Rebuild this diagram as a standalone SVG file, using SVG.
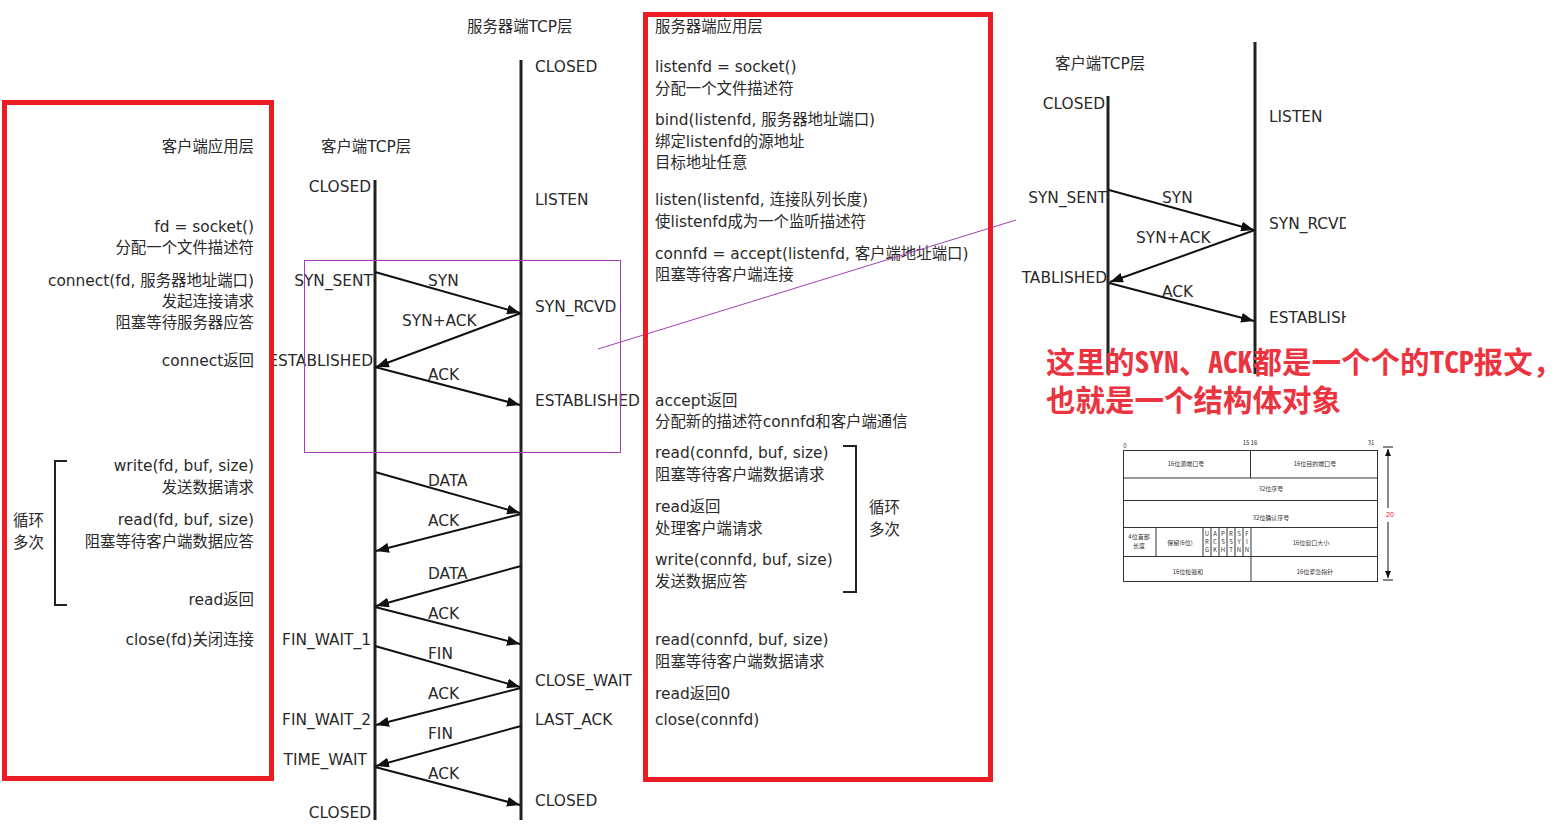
<svg xmlns="http://www.w3.org/2000/svg" width="1561" height="830" viewBox="0 0 1561 830">
<style>
  .t { font-family: "DejaVu Sans", "Noto Sans CJK SC", sans-serif; font-size: 15.4px; fill: #2a2a2a; }
  .e { text-anchor: end; }
  .life { stroke: #222; stroke-width: 3; fill: none; }
  .msg { stroke: #111; stroke-width: 2; fill: none; marker-end: url(#ah); }
  .redbox { fill: none; stroke: #ec1c24; stroke-width: 5; }
  .purple { fill: none; stroke: #a23fb5; stroke-width: 1; }
  .brk { fill: none; stroke: #222; stroke-width: 2; }
  .note { font-family: "Noto Sans Mono CJK SC", "Noto Sans CJK SC", sans-serif; font-size: 29.5px; font-weight: bold; fill: #ec3340; }
  .hdr { font-family: "Noto Sans CJK SC", sans-serif; font-size: 6px; fill: #333; text-anchor: middle; }
  .cell { fill: none; stroke: #333; stroke-width: 1; }
</style>
<defs>
  <marker id="ah" markerUnits="userSpaceOnUse" markerWidth="14" markerHeight="10" refX="13" refY="5" orient="auto">
    <path d="M0,0 L13,5 L0,10 z" fill="#111"/>
  </marker>
  <marker id="sa" markerUnits="userSpaceOnUse" markerWidth="8" markerHeight="8" refX="7" refY="3" orient="auto">
    <path d="M0,0 L7,3 L0,6 z" fill="#111"/>
  </marker>
  <clipPath id="clipR"><rect x="1021" y="38" width="325" height="336"/></clipPath>
</defs>
<rect width="1561" height="830" fill="#ffffff"/>

<g id="client-app">
  <text class="t e" x="254" y="152">客户端应用层</text>
  <text class="t e" x="254" y="232">fd = socket()</text>
  <text class="t e" x="254" y="253">分配一个文件描述符</text>
  <text class="t e" x="254" y="286">connect(fd, 服务器地址端口)</text>
  <text class="t e" x="254" y="307">发起连接请求</text>
  <text class="t e" x="254" y="328">阻塞等待服务器应答</text>
  <text class="t e" x="254" y="366">connect返回</text>
  <text class="t e" x="254" y="471">write(fd, buf, size)</text>
  <text class="t e" x="254" y="493">发送数据请求</text>
  <text class="t e" x="254" y="525">read(fd, buf, size)</text>
  <text class="t e" x="254" y="547">阻塞等待客户端数据应答</text>
  <text class="t e" x="254" y="605">read返回</text>
  <text class="t e" x="254" y="645">close(fd)关闭连接</text>
  <path class="brk" d="M67,461 L55,461 L55,605 L67,605"/>
  <text class="t" x="13" y="526">循环</text>
  <text class="t" x="13" y="548">多次</text>
</g>

<g id="client-tcp">
  <text class="t" x="321" y="152">客户端TCP层</text>
  <line class="life" x1="375" y1="180" x2="375" y2="820"/>
  <text class="t e" x="371" y="192">CLOSED</text>
  <text class="t e" x="373" y="286">SYN_SENT</text>
  <text class="t e" x="373" y="366">ESTABLISHED</text>
  <text class="t e" x="371" y="645">FIN_WAIT_1</text>
  <text class="t e" x="371" y="725">FIN_WAIT_2</text>
  <text class="t e" x="367" y="765">TIME_WAIT</text>
  <text class="t e" x="371" y="818">CLOSED</text>
</g>

<g id="server-tcp">
  <text class="t" x="467" y="32">服务器端TCP层</text>
  <line class="life" x1="521" y1="60" x2="521" y2="820"/>
  <text class="t" x="535" y="72">CLOSED</text>
  <text class="t" x="535" y="205">LISTEN</text>
  <text class="t" x="535" y="312">SYN_RCVD</text>
  <text class="t" x="535" y="406">ESTABLISHED</text>
  <text class="t" x="535" y="686">CLOSE_WAIT</text>
  <text class="t" x="535" y="725">LAST_ACK</text>
  <text class="t" x="535" y="806">CLOSED</text>
</g>

<g id="server-app">
  <text class="t" x="655" y="32">服务器端应用层</text>
  <text class="t" x="655" y="72">listenfd = socket()</text>
  <text class="t" x="655" y="94">分配一个文件描述符</text>
  <text class="t" x="655" y="125">bind(listenfd, 服务器地址端口)</text>
  <text class="t" x="655" y="147">绑定listenfd的源地址</text>
  <text class="t" x="655" y="168">目标地址任意</text>
  <text class="t" x="655" y="205">listen(listenfd, 连接队列长度)</text>
  <text class="t" x="655" y="227">使listenfd成为一个监听描述符</text>
  <text class="t" x="655" y="259">connfd = accept(listenfd, 客户端地址端口)</text>
  <text class="t" x="655" y="280">阻塞等待客户端连接</text>
  <text class="t" x="655" y="406">accept返回</text>
  <text class="t" x="655" y="427">分配新的描述符connfd和客户端通信</text>
  <text class="t" x="655" y="458">read(connfd, buf, size)</text>
  <text class="t" x="655" y="480">阻塞等待客户端数据请求</text>
  <text class="t" x="655" y="512">read返回</text>
  <text class="t" x="655" y="534">处理客户端请求</text>
  <text class="t" x="655" y="565">write(connfd, buf, size)</text>
  <text class="t" x="655" y="587">发送数据应答</text>
  <path class="brk" d="M843,446 L856,446 L856,592 L843,592"/>
  <text class="t" x="869" y="513">循环</text>
  <text class="t" x="869" y="535">多次</text>
  <text class="t" x="655" y="645">read(connfd, buf, size)</text>
  <text class="t" x="655" y="667">阻塞等待客户端数据请求</text>
  <text class="t" x="655" y="699">read返回0</text>
  <text class="t" x="655" y="725">close(connfd)</text>
</g>

<g id="connectors">
  <path class="msg" d="M375,272 L520,313"/>
  <path class="msg" d="M521,313 L376,367"/>
  <path class="msg" d="M375,367 L520,405"/>
  <path class="msg" d="M375,472 L520,513"/>
  <path class="msg" d="M521,514 L376,551"/>
  <path class="msg" d="M521,566 L376,606"/>
  <path class="msg" d="M375,607 L520,644"/>
  <path class="msg" d="M375,646 L520,687"/>
  <path class="msg" d="M521,688 L376,725"/>
  <path class="msg" d="M521,726 L376,766"/>
  <path class="msg" d="M375,767 L520,805"/>
  <text class="t" x="428" y="286">SYN</text>
  <text class="t" x="402" y="326">SYN+ACK</text>
  <text class="t" x="428" y="380">ACK</text>
  <text class="t" x="428" y="486">DATA</text>
  <text class="t" x="428" y="526">ACK</text>
  <text class="t" x="428" y="579">DATA</text>
  <text class="t" x="428" y="619">ACK</text>
  <text class="t" x="428" y="659">FIN</text>
  <text class="t" x="428" y="699">ACK</text>
  <text class="t" x="428" y="739">FIN</text>
  <text class="t" x="428" y="779">ACK</text>
</g>

<g id="highlight">
  <rect class="purple" x="304.5" y="260.5" width="316" height="192"/>
  <line class="purple" x1="598" y1="349" x2="1016" y2="220"/>
</g>

<g id="red-frames">
  <rect class="redbox" x="4.5" y="102.5" width="267" height="676"/>
  <rect class="redbox" x="645.5" y="14.5" width="345" height="765"/>
</g>

<g id="handshake-detail" clip-path="url(#clipR)">
  <text class="t" x="1055" y="69">客户端TCP层</text>
  <line class="life" x1="1108" y1="96" x2="1108" y2="374"/>
  <line class="life" x1="1255" y1="42" x2="1255" y2="374"/>
  <text class="t e" x="1105" y="109">CLOSED</text>
  <text class="t" x="1269" y="122">LISTEN</text>
  <text class="t e" x="1107" y="203">SYN_SENT</text>
  <text class="t" x="1162" y="203">SYN</text>
  <text class="t" x="1269" y="229">SYN_RCVD</text>
  <text class="t" x="1136" y="243">SYN+ACK</text>
  <text class="t e" x="1107" y="283">ESTABLISHED</text>
  <text class="t" x="1162" y="297">ACK</text>
  <text class="t" x="1269" y="323">ESTABLISHED</text>
  <path class="msg" d="M1109,190 L1254,230"/>
  <path class="msg" d="M1255,230 L1110,282"/>
  <path class="msg" d="M1109,283 L1254,321"/>
</g>

<g id="note">
  <text class="note" x="1046" y="373">这里的SYN、ACK都是一个个的TCP报文，</text>
  <text class="note" x="1046" y="411">也就是一个结构体对象</text>
</g>

<g id="tcp-header">
  <text class="hdr" x="1125" y="448" font-size="5">0</text>
  <text class="hdr" x="1250" y="445" font-size="5">15 16</text>
  <text class="hdr" x="1371" y="445" font-size="5">31</text>
  <rect class="cell" x="1123.5" y="450.5" width="254" height="131"/>
  <line class="cell" x1="1123" y1="478" x2="1378" y2="478"/>
  <line class="cell" x1="1123" y1="500.5" x2="1378" y2="500.5"/>
  <line class="cell" x1="1123" y1="527.5" x2="1378" y2="527.5"/>
  <line class="cell" x1="1123" y1="556.5" x2="1378" y2="556.5"/>
  <line class="cell" x1="1250.5" y1="450" x2="1250.5" y2="478"/>
  <line class="cell" x1="1251" y1="527" x2="1251" y2="582"/>
  <line class="cell" x1="1156" y1="527" x2="1156" y2="557"/>
  <line class="cell" x1="1203" y1="527" x2="1203" y2="557"/>
  <line class="cell" x1="1211" y1="527" x2="1211" y2="557"/>
  <line class="cell" x1="1219" y1="527" x2="1219" y2="557"/>
  <line class="cell" x1="1227" y1="527" x2="1227" y2="557"/>
  <line class="cell" x1="1235" y1="527" x2="1235" y2="557"/>
  <line class="cell" x1="1243" y1="527" x2="1243" y2="557"/>
  <text class="hdr" x="1186" y="466">16位源端口号</text>
  <text class="hdr" x="1315" y="466">16位目的端口号</text>
  <text class="hdr" x="1271" y="491">32位序号</text>
  <text class="hdr" x="1271" y="520">32位确认序号</text>
  <text class="hdr" x="1139" y="539">4位首部</text>
  <text class="hdr" x="1139" y="548">长度</text>
  <text class="hdr" x="1180" y="545">保留(6位)</text>
  <text class="hdr" x="1207" y="536" font-size="5">U</text>
  <text class="hdr" x="1207" y="544" font-size="5">R</text>
  <text class="hdr" x="1207" y="552" font-size="5">G</text>
  <text class="hdr" x="1215" y="536" font-size="5">A</text>
  <text class="hdr" x="1215" y="544" font-size="5">C</text>
  <text class="hdr" x="1215" y="552" font-size="5">K</text>
  <text class="hdr" x="1223" y="536" font-size="5">P</text>
  <text class="hdr" x="1223" y="544" font-size="5">S</text>
  <text class="hdr" x="1223" y="552" font-size="5">H</text>
  <text class="hdr" x="1231" y="536" font-size="5">R</text>
  <text class="hdr" x="1231" y="544" font-size="5">S</text>
  <text class="hdr" x="1231" y="552" font-size="5">T</text>
  <text class="hdr" x="1239" y="536" font-size="5">S</text>
  <text class="hdr" x="1239" y="544" font-size="5">Y</text>
  <text class="hdr" x="1239" y="552" font-size="5">N</text>
  <text class="hdr" x="1247" y="536" font-size="5">F</text>
  <text class="hdr" x="1247" y="544" font-size="5">I</text>
  <text class="hdr" x="1247" y="552" font-size="5">N</text>
  <text class="hdr" x="1311" y="545">16位窗口大小</text>
  <text class="hdr" x="1188" y="574">16位检验和</text>
  <text class="hdr" x="1315" y="574">16位紧急指针</text>
  <line x1="1383" y1="447" x2="1393" y2="447" stroke="#111" stroke-width="1"/>
  <line x1="1383" y1="580" x2="1393" y2="580" stroke="#111" stroke-width="1"/>
  <line x1="1388" y1="508" x2="1388" y2="449" stroke="#111" stroke-width="1" marker-end="url(#sa)"/>
  <line x1="1388" y1="522" x2="1388" y2="578" stroke="#111" stroke-width="1" marker-end="url(#sa)"/>
  <text x="1390" y="517" font-family="Liberation Sans, sans-serif" font-size="7" fill="#e02020" text-anchor="middle">20</text>
</g>
</svg>
